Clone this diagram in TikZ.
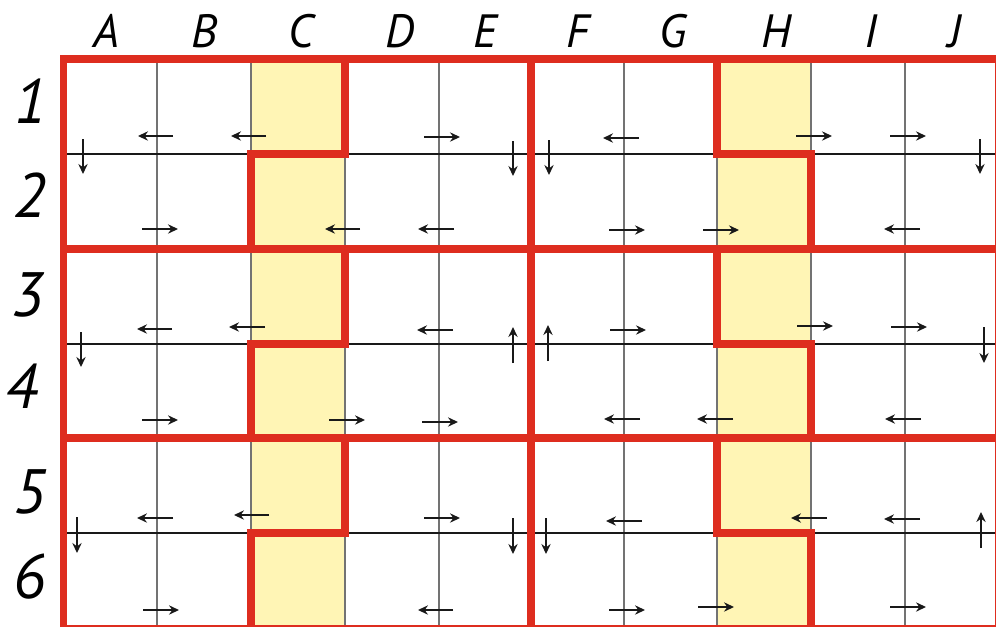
\documentclass[tikz,border=0pt]{standalone}
\usepackage{fontspec}
\setmainfont{PT Sans}
\usetikzlibrary{arrows.meta}
\definecolor{gred}{HTML}{DE2D1F}
\definecolor{gyel}{HTML}{FFF5B5}
\begin{document}
\begin{tikzpicture}[x=0.75pt,y=-0.75pt,
  redline/.style={draw=gred,line width=5.5pt,line join=miter},
  thinv/.style={draw=black!55,line width=0.8pt},
  thinh/.style={draw=black!90,line width=0.8pt},
  arr/.style={draw=black!90,line width=1.1pt,-{Stealth[length=7.5pt,width=7pt,inset=2.5pt]}},
  collab/.style={font=\itshape\fontsize{35}{35}\selectfont,anchor=base,inner sep=0pt},
  rowlab/.style={font=\itshape\fontsize{47}{47}\selectfont,anchor=base,inner sep=0pt}]
\useasboundingbox (0,0) rectangle (996,626);
% yellow columns
\fill[gyel] (251,59) rectangle (345,628);
\fill[gyel] (717,59) rectangle (811,628);
% thin grid lines
\foreach \x in {157,251,345,439,624,717,811,905}
  \draw[thinv] (\x,59) -- (\x,628);
\foreach \y in {154,344,533}
  \draw[thinh] (63.5,\y) -- (999,\y);
% red block outlines
\foreach \a/\m/\b in {59/154/249, 249/344/438, 438/533/628.5}{
  \draw[redline] (63.5,\a) rectangle (531,\b);
  \draw[redline] (531,\a) rectangle (999,\b);
  \draw[redline] (345,\a) -- (345,\m) -- (251,\m) -- (251,\b);
  \draw[redline] (717,\a) -- (717,\m) -- (811,\m) -- (811,\b);
}
% arrows band 1
\draw[arr] (173,136) -- (138,136);
\draw[arr] (266,136) -- (231,136);
\draw[arr] (424,137) -- (460,137);
\draw[arr] (639,138) -- (603,138);
\draw[arr] (796,136) -- (832,136);
\draw[arr] (890,136) -- (926,136);
\draw[arr] (83,139) -- (83,174);
\draw[arr] (513,141) -- (513,176);
\draw[arr] (549,140) -- (549,175);
\draw[arr] (980,139) -- (980,174);
\draw[arr] (142,229) -- (178,229);
\draw[arr] (360,229) -- (325,229);
\draw[arr] (454,229) -- (418,229);
\draw[arr] (609,230) -- (645,230);
\draw[arr] (703,230) -- (739,230);
\draw[arr] (920,229) -- (884,229);
% arrows band 2
\draw[arr] (172,329) -- (137,329);
\draw[arr] (265,327) -- (229,327);
\draw[arr] (453,330) -- (417,330);
\draw[arr] (610,330) -- (646,330);
\draw[arr] (797,326) -- (833,326);
\draw[arr] (891,327) -- (927,327);
\draw[arr] (81,332) -- (81,367);
\draw[arr] (513,363) -- (513,327);
\draw[arr] (548,361) -- (548,325);
\draw[arr] (984,327) -- (984,363);
\draw[arr] (142,420) -- (178,420);
\draw[arr] (329,420) -- (365,420);
\draw[arr] (422,422) -- (458,422);
\draw[arr] (640,419) -- (604,419);
\draw[arr] (733,419) -- (697,419);
\draw[arr] (921,419) -- (885,419);
% arrows band 3
\draw[arr] (173,518) -- (137,518);
\draw[arr] (269,515) -- (234,515);
\draw[arr] (424,518) -- (460,518);
\draw[arr] (642,521) -- (606,521);
\draw[arr] (827,518) -- (791,518);
\draw[arr] (920,519) -- (884,519);
\draw[arr] (77,517) -- (77,553);
\draw[arr] (513,518) -- (513,554);
\draw[arr] (546,518) -- (546,554);
\draw[arr] (981,548) -- (981,512);
\draw[arr] (143,610) -- (179,610);
\draw[arr] (453,610) -- (418,610);
\draw[arr] (609,610) -- (645,610);
\draw[arr] (698,607) -- (734,607);
\draw[arr] (890,607) -- (926,607);
% column labels
\node[collab] (cA) at (106,47) {A};
\node[collab] (cB) at (204,47) {B};
\node[collab] (cC) at (301,47) {C};
\node[collab] (cD) at (400,47) {D};
\node[collab] (cE) at (485,47) {E};
\node[collab] (cF) at (578,47) {F};
\node[collab] (cG) at (673,47) {G};
\node[collab] (cH) at (776,47) {H};
\node[collab] (cI) at (871,47) {I};
\node[collab] (cJ) at (955,47) {J};
% row labels
\node[rowlab] (r1) at (31,123) {1};
\node[rowlab] (r2) at (30,217) {2};
\node[rowlab] (r3) at (28,316) {3};
\node[rowlab] (r4) at (22,408) {4};
\node[rowlab] (r5) at (30,513) {5};
\node[rowlab] (r6) at (30,598) {6};
\end{tikzpicture}
\end{document}
